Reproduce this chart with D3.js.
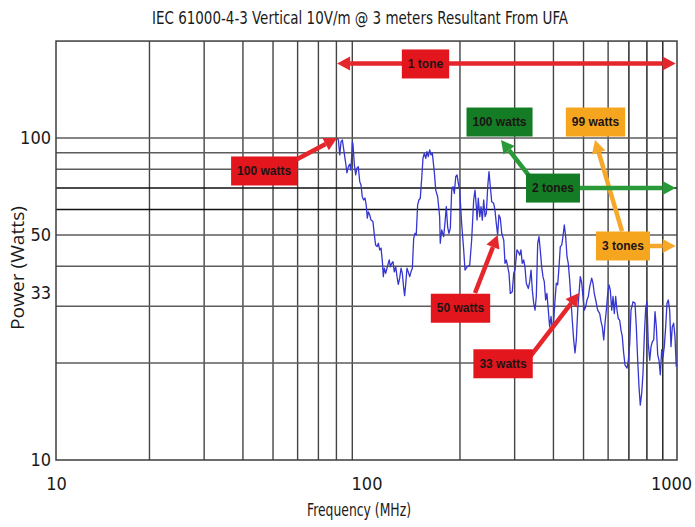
<!DOCTYPE html>
<html>
<head>
<meta charset="utf-8">
<script src="https://cdn.jsdelivr.net/npm/d3@7"></script>
<style>
  html, body { margin: 0; padding: 0; background: #fff; }
  svg { display: block; }
</style>
</head>
<body>
<svg id="chart" width="695" height="527"></svg>
<script>
// Field strength sweep: frequency (MHz) and forward power (W)
const freqMHz = [
  80.4, 81.2, 82.0, 82.8, 83.6, 84.5, 85.7, 86.5, 87.4, 88.3, 89.1, 90.1, 90.5, 91.4, 92.3, 93.2, 94.1, 95.1, 96.0, 96.9,
  97.9, 98.9, 99.8, 100.6, 101.4, 102.4, 103.4, 104.9, 106.0, 107.0, 108.2, 109.2, 110.3, 111.4, 112.5, 113.3, 114.1, 115.3, 116.4, 117.5,
  118.4, 119.3, 120.6, 121.7, 122.9, 124.2, 125.4, 126.6, 127.9, 129.2, 130.4, 131.8, 132.7, 133.7, 135.0, 136.3, 137.8, 139.1, 140.5, 141.9,
  143.3, 144.6, 146.1, 147.5, 149.0, 150.6, 152.0, 153.5, 155.2, 156.6, 158.1, 159.8, 161.3, 162.9, 165.3, 167.1, 169.5, 172.0, 172.8, 174.7,
  177.2, 178.9, 180.7, 182.5, 184.3, 186.2, 188.1, 189.9, 191.8, 193.8, 195.7, 197.6, 199.6, 202.5, 205.6, 207.6, 210.7, 215.0, 218.1, 221.4,
  223.6, 225.8, 227.0, 229.1, 231.6, 233.8, 236.0, 238.5, 240.9, 243.2, 245.7, 248.0, 250.5, 253.1, 256.8, 259.2, 261.8, 264.5, 267.0, 269.8,
  272.6, 276.7, 279.3, 282.0, 285.0, 287.7, 290.5, 294.8, 297.9, 300.7, 305.2, 308.2, 311.4, 314.4, 317.4, 320.8, 323.8, 327.1, 332.1, 335.5,
  338.8, 342.0, 345.5, 348.9, 352.3, 355.9, 359.4, 362.8, 366.6, 370.1, 373.7, 377.6, 381.2, 385.0, 388.9, 392.9, 396.7, 400.9, 404.7, 408.6,
  412.8, 416.9, 420.9, 425.3, 429.3, 433.5, 438.0, 442.3, 446.5, 451.2, 455.5, 459.9, 464.8, 469.3, 474.0, 478.9, 483.6, 488.2, 493.3, 498.0,
  502.9, 508.2, 513.0, 518.0, 523.4, 531.2, 536.3, 541.5, 547.2, 555.3, 563.9, 569.3, 574.8, 580.8, 586.4, 592.1, 598.3, 604.0, 609.8, 616.2,
  622.2, 628.1, 634.6, 640.8, 647.0, 653.7, 660.1, 666.4, 673.3, 680.2, 690.4, 697.1, 704.3, 711.0, 721.7, 732.4, 739.5, 747.1, 754.4, 761.6,
  769.7, 777.1, 784.6, 792.7, 800.4, 808.1, 817.0, 824.9, 832.8, 841.5, 849.6, 857.9, 866.8, 875.1, 883.6, 892.8, 901.4, 910.1, 919.5, 928.5,
  937.4, 947.1, 956.3, 965.5, 975.5, 985.0, 994.5
];
const powerW = [
  100.0, 98.6, 88.6, 97.4, 98.6, 91.8, 83.6, 77.9, 81.4, 83.0, 79.5, 97.4, 95.1, 82.4, 76.8, 80.7, 81.4, 73.2, 71.5, 65.7,
  64.2, 65.1, 61.9, 56.4, 59.0, 57.7, 55.6, 55.0, 50.0, 46.5, 46.0, 47.1, 44.9, 45.5, 41.3, 37.1, 39.4, 38.0, 39.4, 40.8,
  41.8, 39.8, 40.8, 41.3, 38.4, 39.8, 37.1, 35.1, 36.7, 39.4, 38.0, 34.1, 32.4, 35.0, 39.4, 38.4, 37.1, 38.4, 39.4, 48.8,
  50.6, 50.0, 61.9, 64.2, 65.0, 75.0, 86.5, 89.6, 86.5, 90.7, 87.5, 91.8, 88.6, 89.8, 78.6, 68.9, 65.7, 57.0, 47.1, 51.8,
  49.4, 54.3, 61.2, 53.0, 50.6, 52.4, 68.9, 70.6, 67.3, 75.8, 76.8, 72.3, 68.9, 54.3, 44.9, 38.9, 39.8, 40.3, 48.2, 64.2,
  68.9, 61.2, 55.6, 65.0, 57.0, 61.2, 55.6, 64.2, 57.0, 58.4, 70.6, 78.6, 70.6, 63.4, 62.7, 59.8, 54.3, 50.0, 57.7, 56.3,
  50.6, 48.2, 40.8, 41.8, 39.8, 38.0, 32.9, 33.3, 38.0, 38.9, 44.9, 44.3, 43.3, 44.9, 40.8, 41.8, 39.8, 35.4, 34.1, 35.8,
  38.9, 33.7, 30.7, 29.2, 32.2, 47.1, 49.4, 44.9, 39.8, 37.1, 35.8, 31.4, 32.9, 29.2, 25.9, 27.9, 25.3, 27.2, 31.4, 35.4,
  35.0, 39.8, 46.0, 46.5, 49.4, 53.7, 49.4, 42.8, 40.8, 36.2, 31.4, 27.2, 23.6, 21.5, 23.6, 29.2, 33.0, 37.1, 35.4, 32.2,
  29.2, 29.9, 31.4, 32.2, 34.5, 36.7, 35.4, 32.9, 31.4, 29.2, 28.5, 26.9, 25.9, 23.6, 26.6, 29.2, 32.9, 35.0, 33.7, 29.2,
  32.2, 28.5, 32.2, 29.2, 27.5, 27.2, 25.3, 24.2, 21.5, 19.7, 19.3, 20.4, 23.0, 29.2, 31.0, 30.7, 25.9, 20.4, 16.9, 14.8,
  16.1, 18.6, 24.2, 29.6, 31.0, 23.0, 20.4, 22.5, 23.3, 23.6, 28.9, 25.9, 21.2, 20.4, 18.4, 22.0, 20.9, 22.5, 25.9, 30.7,
  31.4, 29.2, 22.5, 25.9, 26.6, 24.2, 19.5
];

// Axis ticks and grid lines
const xTickValues = [10, 100, 1000];
const yTickValues = [10, 33, 50, 100];
const xGridValues = [20, 30, 40, 50, 60, 70, 80, 90, 200, 300, 400, 500, 600, 700, 800, 900];
const yGridValues = [20, 30, 40, 50, 60, 70, 80, 90, 100];
const yGridDark = [60, 70];

// Call-out boxes: label, anchor frequency (MHz), anchor power (W)
const calloutText = ["1 tone", "100 watts", "100 watts", "99 watts", "2 tones", "3 tones", "50 watts", "33 watts"];
const calloutFreq = [154.9, 46.8, 268.2, 546.5, 398.7, 669.9, 200.8, 275.3];
const calloutPower = [169.8, 79.0, 112.1, 112.1, 69.9, 46.2, 29.6, 19.9];
const calloutKind = ["red", "red", "green", "orange", "green", "orange", "red", "red"];

// Arrows: [fromFreq, fromPower] -> [toFreq, toPower], kind, double-headed
const arrowFrom = [[80.4, 170.3], [57.5, 84.2], [336.1, 75.7], [665.0, 51.4], [483.6, 69.9], [812.3, 46.2], [223.6, 33.0], [336.1, 20.9]];
const arrowTo   = [[990, 170.3], [freqMHz[0], powerW[0]], [271.2, 98.6], [544.5, 98.6], [990, 69.9], [990, 46.2], [freqMHz[117], powerW[117]], [freqMHz[176], powerW[176]]];
const arrowKind = ["red", "red", "green", "orange", "green", "orange", "red", "red"];
const arrowBoth = [true, false, false, false, false, false, false, false];

const boxFill = { red: "#e3151d", green: "#137c25", orange: "#f6a51f" };
const arrowFill = { red: "#e5262b", green: "#2a9a38", orange: "#f6a82a" };

const svg = d3.select("#chart");
const W = 695, H = 527;
const plot = { left: 56, right: 677, top: 41.07, bottom: 460 };

const x = d3.scaleLog().domain([10, 1000]).range([plot.left, plot.right]);
const y = d3.scaleLog().domain([10, 200]).range([plot.bottom, plot.top]);

svg.append("rect").attr("width", W).attr("height", H).attr("fill", "#fff");

// Grid
const grid = svg.append("g");
grid.selectAll("line.v").data(xGridValues).join("line")
  .attr("x1", d => x(d)).attr("x2", d => x(d))
  .attr("y1", plot.top).attr("y2", plot.bottom)
  .attr("stroke", d => d >= 700 ? "#1a1a1a" : "#444")
  .attr("stroke-width", 1.4);
grid.selectAll("line.h").data(yGridValues).join("line")
  .attr("x1", plot.left).attr("x2", plot.right)
  .attr("y1", d => y(d)).attr("y2", d => y(d))
  .attr("stroke", d => yGridDark.includes(d) ? "#111" : "#5c5c5c")
  .attr("stroke-width", 1.5);
svg.append("rect")
  .attr("x", plot.left).attr("y", plot.top)
  .attr("width", plot.right - plot.left).attr("height", plot.bottom - plot.top)
  .attr("fill", "none").attr("stroke", "#3d3d3d").attr("stroke-width", 1.5);

// Power trace
const pts = freqMHz.map((f, i) => [f, powerW[i]]);
svg.append("path")
  .datum(pts)
  .attr("fill", "none")
  .attr("stroke", "#3535d0")
  .attr("stroke-width", 1.3)
  .attr("stroke-linejoin", "round")
  .attr("d", d3.line().x(d => x(d[0])).y(d => y(d[1])));

// Axes
const labelFont = "'DejaVu Sans Condensed', 'Liberation Sans Narrow', 'Roboto', sans-serif";
const xAxis = svg.append("g").attr("transform", `translate(0,${plot.bottom})`)
  .call(d3.axisBottom(x).tickValues(xTickValues).tickFormat(d3.format("d")).tickSize(0).tickPadding(17));
const yAxis = svg.append("g").attr("transform", `translate(${plot.left},0)`)
  .call(d3.axisLeft(y).tickValues(yTickValues).tickFormat(d3.format("d")).tickSize(0).tickPadding(5));
[xAxis, yAxis].forEach(a => {
  a.select(".domain").remove();
  a.selectAll("text").attr("font-family", labelFont).attr("font-size", 18).attr("fill", "#1a1a1a");
});
// keep the last frequency label inside the page
xAxis.selectAll(".tick text").filter(d => d === 1000).attr("dx", -6);

svg.append("text")
  .attr("x", 360).attr("y", 24)
  .attr("text-anchor", "middle")
  .attr("font-family", labelFont).attr("font-size", 17).attr("fill", "#1a1a1a")
  .attr("textLength", 416).attr("lengthAdjust", "spacingAndGlyphs")
  .text("IEC 61000-4-3 Vertical 10V/m @ 3 meters Resultant From UFA");

svg.append("text")
  .attr("x", 359).attr("y", 516)
  .attr("text-anchor", "middle")
  .attr("font-family", labelFont).attr("font-size", 18).attr("fill", "#1a1a1a")
  .attr("textLength", 104).attr("lengthAdjust", "spacingAndGlyphs")
  .text("Frequency (MHz)");

svg.append("text")
  .attr("transform", "translate(24,268) rotate(-90)")
  .attr("text-anchor", "middle")
  .attr("font-family", "'Open Sans', 'DejaVu Sans', sans-serif").attr("font-size", 18).attr("fill", "#1a1a1a")
  .attr("textLength", 124).attr("lengthAdjust", "spacingAndGlyphs")
  .text("Power (Watts)");

// Arrows
function drawArrow(g, x0, y0, x1, y1, color, both) {
  const hl = 13, hw = 7, sw = 4.5;
  const dx = x1 - x0, dy = y1 - y0, L = Math.hypot(dx, dy);
  const ux = dx / L, uy = dy / L;
  const sx = both ? x0 + ux * hl : x0, sy = both ? y0 + uy * hl : y0;
  g.append("line")
    .attr("x1", sx).attr("y1", sy)
    .attr("x2", x1 - ux * hl).attr("y2", y1 - uy * hl)
    .attr("stroke", color).attr("stroke-width", sw);
  const head = (tx, ty, vx, vy) => {
    const bx = tx - vx * hl, by = ty - vy * hl;
    g.append("path")
      .attr("d", `M${tx},${ty}L${bx - vy * hw},${by + vx * hw}L${bx + vy * hw},${by - vx * hw}Z`)
      .attr("fill", color);
  };
  head(x1, y1, ux, uy);
  if (both) head(x0, y0, -ux, -uy);
}
const arrows = svg.append("g");
arrowFrom.forEach((a, i) => {
  drawArrow(arrows, x(a[0]), y(a[1]), x(arrowTo[i][0]), y(arrowTo[i][1]), arrowFill[arrowKind[i]], arrowBoth[i]);
});

// Call-out boxes
const boxes = svg.append("g");
calloutText.forEach((t, i) => {
  const cx = x(calloutFreq[i]), cy = y(calloutPower[i]);
  const g = boxes.append("g");
  const rect = g.append("rect").attr("fill", boxFill[calloutKind[i]]);
  const txt = g.append("text")
    .attr("x", cx).attr("y", cy).attr("dy", "0.35em")
    .attr("text-anchor", "middle")
    .attr("font-family", "'Liberation Sans', Arial, sans-serif")
    .attr("font-weight", "bold").attr("font-size", 12)
    .attr("fill", "#1c1414")
    .text(t);
  const w = txt.node().getComputedTextLength() + 12, h = 29;
  rect.attr("x", cx - w / 2).attr("y", cy - h / 2).attr("width", w).attr("height", h);
});
</script>
</body>
</html>
